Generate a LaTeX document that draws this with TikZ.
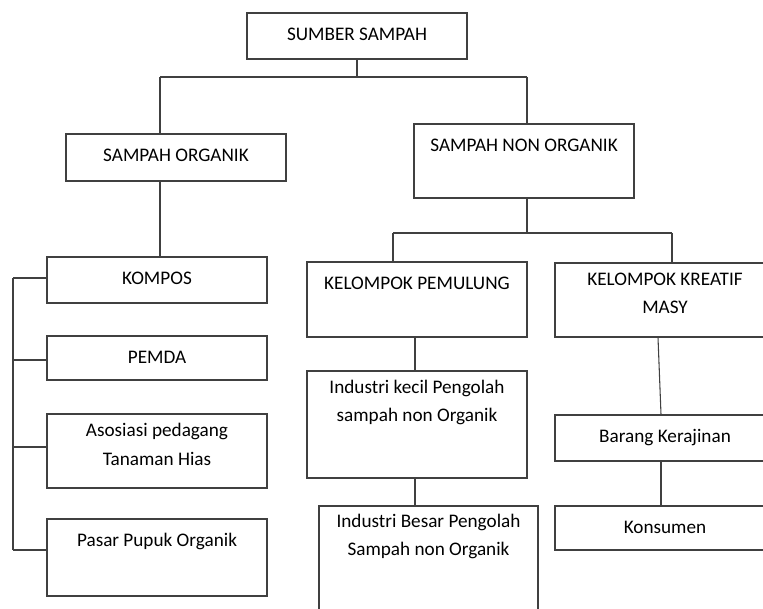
\documentclass[tikz,border=0pt]{standalone}
\usepackage{fontspec}
\setmainfont{Carlito}
\usetikzlibrary{positioning}

\begin{document}
\begin{tikzpicture}[x=0.75pt,y=-0.75pt,
  kotak/.style={draw=black!75,line width=0.9pt,minimum width=165pt},
  teks/.style={inner sep=0pt,align=center,text=black,font=\fontsize{14.4}{21}\selectfont,execute at begin node=\strut},
  garis/.style={draw=black!75,line width=0.8pt}]
\useasboundingbox (0,0) rectangle (763,609);
\clip (0,0) rectangle (763,609);
% kotak-kotak
\node[kotak,minimum height=34.5pt]  (sumber)     at (357,36)    {};
\node[kotak,minimum height=35.25pt] (organik)    at (176,157.5) {};
\node[kotak,minimum height=55.5pt]  (nonorganik) at (524,161)   {};
\node[kotak,minimum height=34.5pt]  (kompos)     at (157,280)   {};
\node[kotak,minimum height=33pt]    (pemda)      at (157,358)   {};
\node[kotak,minimum height=55.5pt]  (asosiasi)   at (157,451)   {};
\node[kotak,minimum height=57.75pt] (pasar)      at (157,557.5) {};
\node[kotak,minimum height=56.25pt] (pemulung)   at (417,299.5) {};
\node[kotak,minimum height=55.5pt]  (kreatif)    at (665,300)   {};
\node[kotak,minimum height=80.25pt] (kecil)      at (417,424.5) {};
\node[kotak,minimum height=82.5pt,minimum width=164.25pt] (besar) at (428.5,561) {};
\node[kotak,minimum height=34.5pt]  (barang)     at (665,438)   {};
\node[kotak,minimum height=33pt]    (konsumen)   at (665,528)   {};
% tulisan
\node[teks,below=6.5pt of sumber.north]     (t-sumber)     {SUMBER SAMPAH};
\node[teks,below=6.5pt of organik.north]    (t-organik)    {SAMPAH ORGANIK};
\node[teks,below=6.5pt of nonorganik.north] (t-nonorganik) {SAMPAH NON ORGANIK};
\node[teks,below=6.5pt of kompos.north]     (t-kompos)     {KOMPOS};
\node[teks,below=6.5pt of pemda.north]      (t-pemda)      {PEMDA};
\node[teks,below=7.5pt of asosiasi.north]   (t-asosiasi)   {Asosiasi pedagang\\Tanaman Hias};
\node[teks,below=6.5pt of pasar.north]      (t-pasar)      {Pasar Pupuk Organik};
\node[teks,below=6.5pt of pemulung.north]   (t-pemulung)   {KELOMPOK PEMULUNG};
\node[teks,below=7.5pt of kreatif.north]    (t-kreatif)    {KELOMPOK KREATIF\\MASY};
\node[teks,below=7pt of kecil.north]        (t-kecil)      {Industri kecil Pengolah\\sampah non Organik};
\node[teks,below=6.5pt of besar.north]      (t-besar)      {Industri Besar Pengolah\\Sampah non Organik};
\node[teks,below=6.5pt of barang.north]     (t-barang)     {Barang Kerajinan};
\node[teks,below=6pt of konsumen.north]     (t-konsumen)   {Konsumen};
% garis penghubung
\coordinate (cab1) at (160,77);
\coordinate (cab2) at (527,77);
\coordinate (cb1) at (393,233);
\coordinate (cb2) at (672,233);
\coordinate (ck) at (415,337);
\draw[garis] (sumber.south) -- (sumber.south |- cab1);
\draw[garis] (cab1) -- (cab2);
\draw[garis] (cab1) -- (cab1 |- organik.north);
\draw[garis] (cab2) -- (cab2 |- nonorganik.north);
\draw[garis] (cab1 |- organik.south) -- (cab1 |- kompos.north);
\coordinate (ka1) at (13,278);
\coordinate (ka2) at (13,360);
\coordinate (ka3) at (13,447);
\coordinate (ka4) at (13,550);
\draw[garis] (ka1) -- (ka4);
\foreach \i/\n in {1/kompos,2/pemda,3/asosiasi,4/pasar}
  \draw[garis] (ka\i) -- (ka\i -| \n.west);
\draw[garis] (cab2 |- nonorganik.south) -- (cab2 |- cb1);
\draw[garis] (cb1) -- (cb2);
\draw[garis] (cb1) -- (cb1 |- pemulung.north);
\draw[garis] (cb2) -- (cb2 |- kreatif.north);
\draw[garis] (ck) -- (ck |- kecil.north);
\draw[garis] (ck |- kecil.south) -- (ck |- besar.north);
\draw[garis] ([xshift=-5.25pt]kreatif.south) -- ([xshift=-3pt]barang.north);
\draw[garis] ([xshift=-3pt]barang.south) -- ([xshift=-3pt]konsumen.north);
\end{tikzpicture}
\end{document}
